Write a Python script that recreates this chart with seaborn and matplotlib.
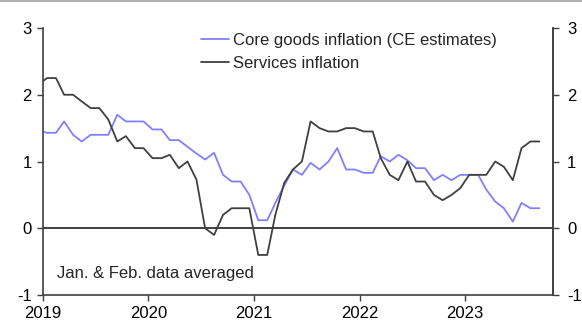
import numpy as np
import pandas as pd
import matplotlib
matplotlib.use("Agg")
import matplotlib.pyplot as plt
from matplotlib.lines import Line2D
import seaborn as sns

# Monthly data, Dec 2018 .. Sep 2023 (points plotted mid-month)
start_month = "2018-12-01"
core_goods = [1.47,
              1.43, 1.43, 1.6, 1.4, 1.3, 1.4, 1.4, 1.4, 1.7, 1.6, 1.6, 1.6,
              1.48, 1.48, 1.32, 1.32, 1.22, 1.12, 1.03, 1.13, 0.8, 0.7, 0.7, 0.5,
              0.12, 0.12, 0.38, 0.64, 0.88, 0.8, 0.98, 0.88, 1.0, 1.2, 0.88, 0.88,
              0.83, 0.83, 1.08, 1.0, 1.1, 1.02, 0.9, 0.9, 0.72, 0.8, 0.72, 0.8,
              0.8, 0.8, 0.58, 0.4, 0.3, 0.1, 0.38, 0.3, 0.3]
services = [2.15,
            2.25, 2.25, 2.0, 2.0, 1.9, 1.8, 1.8, 1.63, 1.3, 1.38, 1.2, 1.2,
            1.05, 1.05, 1.1, 0.9, 1.0, 0.73, 0.0, -0.1, 0.2, 0.3, 0.3, 0.3,
            -0.4, -0.4, 0.2, 0.68, 0.88, 1.0, 1.6, 1.5, 1.45, 1.45, 1.5, 1.5,
            1.45, 1.45, 1.05, 0.8, 0.72, 1.0, 0.7, 0.7, 0.5, 0.42, 0.5, 0.6,
            0.8, 0.8, 0.8, 1.0, 0.92, 0.72, 1.2, 1.3, 1.3]
series_names = ["Core goods inflation (CE estimates)", "Services inflation"]
year_ticks = ["2019", "2020", "2021", "2022", "2023"]
y_ticks = [-1, 0, 1, 2, 3]
note = "Jan. & Feb. data averaged"

dates = pd.date_range(start_month, periods=len(core_goods), freq="MS") + pd.Timedelta(days=14)
df = pd.DataFrame({
    "date": np.concatenate([dates, dates]),
    "value": core_goods + services,
    "series": [series_names[0]] * len(core_goods) + [series_names[1]] * len(services),
})

FS = 12

sns.set_theme(style="white")
plt.rcParams["font.family"] = ["Liberation Sans", "DejaVu Sans"]
plt.rcParams["font.size"] = FS

fig = plt.figure(figsize=(5.82, 3.27), dpi=100)
ax = fig.add_axes([43/582, 1-295/327, 510/582, 267/327])

palette = {series_names[0]: "#8080ff", series_names[1]: "#404040"}
sns.lineplot(data=df, x="date", y="value", hue="series", palette=palette,
             linewidth=1.3, ax=ax, legend=False)

ax.axhline(0, color="#202020", linewidth=1.2, zorder=1)

ax.set_xlim(pd.Timestamp("2019-01-01"), pd.Timestamp("2023-11-01"))
ax.set_ylim(-1, 3)
ax.set_xticks([pd.Timestamp(f"{y}-01-01") for y in year_ticks])
ax.set_xticklabels(year_ticks)
ax.set_yticks(y_ticks)
ax.set_yticklabels([str(v) for v in y_ticks])
ax.set_xlabel("")
ax.set_ylabel("")

for side in ["left", "right", "bottom"]:
    ax.spines[side].set_visible(True)
    ax.spines[side].set_color("#404040")
    ax.spines[side].set_linewidth(1.2)
ax.spines["top"].set_visible(False)

ax.tick_params(axis="both", which="both", direction="out", length=4, width=1.0,
               color="#404040", labelsize=FS, labelcolor="black", pad=3)
ax.tick_params(axis="x", bottom=True, pad=4)
ax.tick_params(axis="y", left=True, pad=4)

ax2 = ax.twinx()
ax2.set_ylim(-1, 3)
ax2.set_yticks(y_ticks)
ax2.set_yticklabels([str(v) for v in y_ticks])
for side in ["left", "top", "bottom"]:
    ax2.spines[side].set_visible(False)
ax2.spines["right"].set_visible(True)
ax2.spines["right"].set_color("#404040")
ax2.spines["right"].set_linewidth(1.2)
ax2.tick_params(axis="y", right=True, direction="out", length=4, width=1.0,
                color="#404040", labelsize=FS, labelcolor="black", pad=6)
ax2.grid(False)
ax.grid(False)

handles = [Line2D([], [], color=palette[n], linewidth=1.3) for n in series_names]
fig.legend(handles, series_names, loc="upper left",
           bbox_to_anchor=(201/582, 1-33/327), frameon=False,
           handlelength=1.68, handletextpad=0.25, borderpad=0, borderaxespad=0,
           labelspacing=0.5, fontsize=FS)

ax.text(pd.Timestamp("2019-02-20"), -0.75, note, fontsize=FS, va="baseline", ha="left")

# thin grey band at top of the image
fig.add_artist(plt.Rectangle((0, 1-2/327), 1, 2/327, transform=fig.transFigure,
                             color="#b0b0b0", linewidth=0))

fig.savefig("out.png", dpi=100)
